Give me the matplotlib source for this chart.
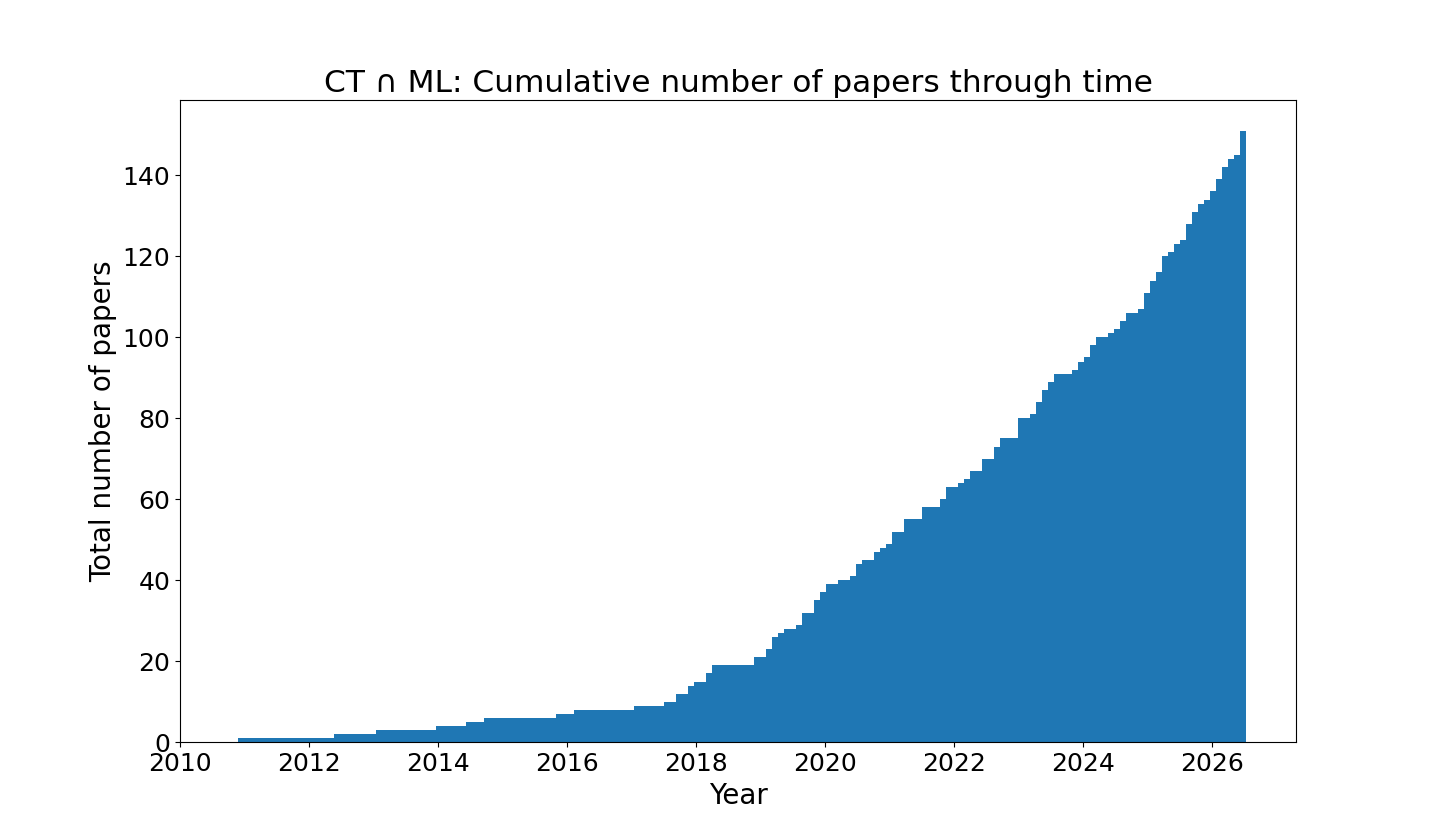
import matplotlib
matplotlib.use("Agg")
import matplotlib.pyplot as plt
import numpy as np

# Binning of the histogram (years, decimal)
BIN_START = 2010.90
BIN_END = 2026.52
N_BINS = 168

# Cumulative number of papers at the end of each bin
cumulative_counts = [
    1, 1, 1, 1, 1, 1, 1, 1, 1, 1, 1, 1, 1, 1, 1, 1,
    2, 2, 2, 2, 2, 2, 2,
    3, 3, 3, 3, 3, 3, 3, 3, 3, 3,
    4, 4, 4, 4, 4,
    5, 5, 5,
    6, 6, 6, 6, 6, 6, 6, 6, 6, 6, 6, 6,
    7, 7, 7,
    8, 8, 8, 8, 8, 8, 8, 8, 8, 8,
    9, 9, 9, 9, 9,
    10, 10,
    12, 12,
    14, 15, 15, 17,
    19, 19, 19, 19, 19, 19, 19,
    21, 21, 23, 26, 27, 28, 28, 29, 32, 32, 35, 37, 39, 39,
    40, 40, 41, 44, 45, 45, 47, 48, 49, 52, 52,
    55, 55, 55, 58, 58, 58, 60, 63, 63, 64, 65, 67, 67,
    70, 70, 73, 75, 75, 75, 80, 80, 81, 84, 87, 89,
    91, 91, 91, 92, 94, 95, 98, 100, 100, 101, 102, 104,
    106, 106, 107, 111, 114, 116, 120, 121, 123, 124,
    128, 131, 133, 134, 136, 139, 142, 144, 145, 151,
]

edges = np.linspace(BIN_START, BIN_END, N_BINS + 1)
# new papers per bin, so that hist(cumulative=True) rebuilds the curve
new_per_bin = np.diff([0] + cumulative_counts)

plt.rcParams['font.size'] = 18

fig, ax = plt.subplots(figsize=(14.4, 8.34), dpi=100)
ax.hist(edges[:-1], bins=edges, weights=new_per_bin, cumulative=True,
        color='#1f77b4')

ax.set_xlim(2010, 2027.3)
ax.set_xticks(range(2010, 2027, 2))
ax.set_title("CT ∩ ML: Cumulative number of papers through time",
             fontsize=22.5)
ax.set_xlabel("Year", fontsize=20)
ax.set_ylabel("Total number of papers", fontsize=20)

plt.savefig("out.png", dpi=100)
plt.close()
